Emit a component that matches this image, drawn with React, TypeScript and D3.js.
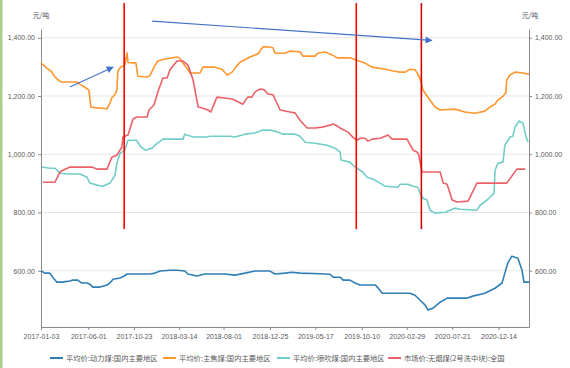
import React, { useEffect, useRef } from 'react';
import * as d3 from 'd3';

type Pt = [string, number];

const seriesNames = [
  '平均价:动力煤:国内主要地区',
  '平均价:主焦煤:国内主要地区',
  '平均价:喷吹煤:国内主要地区',
  '市场价:无烟煤(2号洗中块):全国',
];
const seriesColors = ['#2f7fb6', '#ff962e', '#72cdc8', '#ea6168'];

// 动力煤
const thermalCoal: Pt[] = [
  ['2017-01-03', 600], ['2017-01-15', 592], ['2017-01-31', 592], ['2017-02-09', 578], ['2017-02-22', 561],
  ['2017-03-10', 561], ['2017-04-04', 565], ['2017-04-13', 568], ['2017-04-29', 568], ['2017-05-11', 558],
  ['2017-05-28', 558], ['2017-06-06', 554], ['2017-06-15', 544], ['2017-07-08', 544], ['2017-07-30', 551],
  ['2017-08-08', 558], ['2017-08-18', 571], ['2017-09-09', 575], ['2017-09-22', 582], ['2017-10-01', 589],
  ['2017-12-12', 589], ['2017-12-28', 592], ['2018-01-13', 599], ['2018-02-13', 602], ['2018-03-10', 602],
  ['2018-04-01', 599], ['2018-04-11', 589], ['2018-05-09', 582], ['2018-06-03', 589], ['2018-08-05', 589],
  ['2018-09-06', 585], ['2018-10-08', 592], ['2018-11-08', 599], ['2018-12-25', 599], ['2019-01-10', 589],
  ['2019-02-10', 592], ['2019-03-05', 595], ['2019-03-30', 592], ['2019-06-01', 590], ['2019-07-02', 588],
  ['2019-07-12', 578], ['2019-08-03', 578], ['2019-08-13', 568], ['2019-09-03', 568], ['2019-09-19', 558],
  ['2019-10-05', 551], ['2019-11-22', 551], ['2019-11-28', 544], ['2019-12-14', 523], ['2020-01-23', 523],
  ['2020-03-10', 523], ['2020-03-26', 516], ['2020-04-11', 499], ['2020-04-27', 482], ['2020-05-06', 465],
  ['2020-05-22', 472], ['2020-06-13', 492], ['2020-07-05', 506], ['2020-09-05', 506], ['2020-09-24', 513],
  ['2020-11-01', 523], ['2020-12-03', 540], ['2020-12-25', 558], ['2021-01-03', 592], ['2021-01-12', 626],
  ['2021-01-25', 650], ['2021-02-13', 643], ['2021-02-26', 602], ['2021-03-04', 561], ['2021-03-20', 561],
];

// 主焦煤
const cokingCoal: Pt[] = [
  ['2017-01-03', 1313], ['2017-01-12', 1305], ['2017-01-22', 1295], ['2017-02-04', 1285], ['2017-02-16', 1265],
  ['2017-03-04', 1250], ['2017-03-10', 1248], ['2017-04-26', 1248], ['2017-05-06', 1240], ['2017-05-21', 1230],
  ['2017-06-03', 1220], ['2017-06-09', 1162], ['2017-06-22', 1160], ['2017-07-30', 1156], ['2017-08-08', 1175],
  ['2017-08-14', 1193], ['2017-08-24', 1205], ['2017-08-30', 1220], ['2017-09-02', 1285], ['2017-09-11', 1300],
  ['2017-09-24', 1306], ['2017-10-01', 1348], ['2017-10-04', 1315], ['2017-10-29', 1313], ['2017-11-04', 1268],
  ['2017-12-03', 1265], ['2017-12-12', 1270], ['2017-12-28', 1305], ['2018-01-06', 1320], ['2018-01-22', 1325],
  ['2018-03-07', 1334], ['2018-03-16', 1330], ['2018-03-26', 1313], ['2018-04-11', 1290], ['2018-04-17', 1279],
  ['2018-05-19', 1279], ['2018-05-28', 1299], ['2018-07-05', 1299], ['2018-07-27', 1292], ['2018-08-12', 1272],
  ['2018-08-28', 1282], ['2018-09-09', 1300], ['2018-09-22', 1316], ['2018-10-23', 1334], ['2018-11-18', 1345],
  ['2018-12-03', 1369], ['2018-12-25', 1368], ['2019-01-04', 1365], ['2019-01-10', 1347], ['2019-02-10', 1347],
  ['2019-02-26', 1354], ['2019-03-30', 1352], ['2019-04-08', 1337], ['2019-05-16', 1337], ['2019-05-25', 1347],
  ['2019-06-17', 1351], ['2019-07-09', 1341], ['2019-07-25', 1331], ['2019-09-03', 1331], ['2019-09-25', 1323],
  ['2019-10-20', 1313], ['2019-11-12', 1299], ['2019-12-23', 1292], ['2020-01-17', 1286], ['2020-02-08', 1282],
  ['2020-02-24', 1282], ['2020-03-10', 1292], ['2020-03-26', 1290], ['2020-04-04', 1275], ['2020-04-14', 1250],
  ['2020-04-20', 1220], ['2020-05-03', 1200], ['2020-05-12', 1186], ['2020-05-28', 1162], ['2020-06-13', 1152],
  ['2020-07-30', 1155], ['2020-08-30', 1145], ['2020-10-01', 1141], ['2020-11-01', 1148], ['2020-11-17', 1162],
  ['2020-12-03', 1172], ['2020-12-12', 1186], ['2020-12-25', 1196], ['2021-01-03', 1207], ['2021-01-06', 1210],
  ['2021-01-09', 1255], ['2021-01-19', 1272], ['2021-02-04', 1282], ['2021-03-01', 1279], ['2021-03-20', 1275],
];

// 喷吹煤
const pciCoal: Pt[] = [
  ['2017-01-06', 956], ['2017-01-31', 952], ['2017-02-16', 952], ['2017-03-04', 935], ['2017-03-26', 932],
  ['2017-05-06', 932], ['2017-05-28', 921], ['2017-06-06', 901], ['2017-06-28', 894], ['2017-07-17', 890],
  ['2017-08-08', 901], ['2017-08-24', 928], ['2017-08-30', 969], ['2017-09-09', 1003], ['2017-09-24', 1014],
  ['2017-10-04', 1048], ['2017-11-01', 1048], ['2017-11-11', 1028], ['2017-11-27', 1014], ['2017-12-19', 1021],
  ['2017-12-28', 1031], ['2018-01-22', 1052], ['2018-03-26', 1052], ['2018-04-01', 1069], ['2018-04-27', 1059],
  ['2018-06-10', 1059], ['2018-06-19', 1062], ['2018-08-21', 1062], ['2018-09-06', 1059], ['2018-10-08', 1069],
  ['2018-11-08', 1073], ['2018-12-03', 1083], ['2018-12-25', 1083], ['2019-01-20', 1076], ['2019-02-04', 1069],
  ['2019-03-14', 1069], ['2019-03-30', 1062], ['2019-04-15', 1041], ['2019-05-16', 1038], ['2019-06-23', 1031],
  ['2019-07-18', 1021], ['2019-08-03', 1008], ['2019-08-06', 980], ['2019-09-03', 973], ['2019-09-12', 963],
  ['2019-09-25', 952], ['2019-10-14', 939], ['2019-10-27', 921], ['2019-11-15', 914], ['2019-12-07', 901],
  ['2019-12-23', 890], ['2020-02-01', 887], ['2020-02-08', 897], ['2020-03-04', 897], ['2020-03-20', 890],
  ['2020-04-04', 887], ['2020-04-11', 866], ['2020-04-20', 849], ['2020-05-03', 843], ['2020-05-12', 808],
  ['2020-05-28', 798], ['2020-06-29', 801], ['2020-07-14', 808], ['2020-07-30', 815], ['2020-08-15', 811],
  ['2020-10-07', 808], ['2020-10-17', 825], ['2020-11-08', 843], ['2020-11-24', 860], ['2020-11-30', 866],
  ['2020-12-03', 945], ['2020-12-12', 969], ['2020-12-28', 973], ['2021-01-03', 1031], ['2021-01-19', 1059],
  ['2021-01-28', 1062], ['2021-02-04', 1093], ['2021-02-17', 1114], ['2021-03-01', 1107], ['2021-03-11', 1059],
  ['2021-03-17', 1041],
];

// 无烟煤
const anthracite: Pt[] = [
  ['2017-01-09', 904], ['2017-02-16', 904], ['2017-03-04', 939], ['2017-03-13', 945], ['2017-04-04', 956],
  ['2017-06-12', 956], ['2017-06-28', 949], ['2017-07-30', 949], ['2017-08-14', 990], ['2017-08-30', 997],
  ['2017-09-15', 1025], ['2017-09-18', 1059], ['2017-10-04', 1066], ['2017-10-20', 1121], ['2017-11-01', 1128],
  ['2017-12-03', 1128], ['2017-12-09', 1152], ['2017-12-25', 1169], ['2018-01-06', 1214], ['2018-01-22', 1262],
  ['2018-02-04', 1262], ['2018-02-13', 1289], ['2018-03-07', 1320], ['2018-03-26', 1320], ['2018-04-11', 1306],
  ['2018-04-27', 1255], ['2018-05-13', 1162], ['2018-05-28', 1158], ['2018-06-13', 1152], ['2018-06-22', 1145],
  ['2018-07-11', 1196], ['2018-08-05', 1193], ['2018-08-30', 1189], ['2018-09-15', 1180], ['2018-10-01', 1172],
  ['2018-10-16', 1196], ['2018-10-29', 1196], ['2018-11-08', 1214], ['2018-11-24', 1224], ['2018-12-06', 1222],
  ['2018-12-19', 1207], ['2019-01-04', 1204], ['2019-01-16', 1176], ['2019-01-26', 1152], ['2019-02-26', 1145],
  ['2019-03-14', 1142], ['2019-03-30', 1117], ['2019-04-21', 1090], ['2019-05-16', 1090], ['2019-06-07', 1093],
  ['2019-07-02', 1100], ['2019-07-12', 1104], ['2019-07-25', 1097], ['2019-08-03', 1090], ['2019-08-28', 1076],
  ['2019-09-12', 1059], ['2019-09-25', 1048], ['2019-10-05', 1055], ['2019-10-20', 1055], ['2019-10-30', 1045],
  ['2019-11-12', 1052], ['2019-12-07', 1055], ['2019-12-23', 1062], ['2020-01-01', 1066], ['2020-01-14', 1052],
  ['2020-03-01', 1052], ['2020-03-20', 1014], ['2020-04-01', 1008], ['2020-04-07', 997], ['2020-04-17', 939],
  ['2020-06-13', 939], ['2020-06-23', 901], ['2020-07-05', 897], ['2020-07-21', 843], ['2020-08-05', 836],
  ['2020-09-09', 839], ['2020-10-07', 901], ['2021-01-09', 901], ['2021-02-10', 949], ['2021-03-08', 949],
];

const allSeries = [thermalCoal, cokingCoal, pciCoal, anthracite];

const dateDomain = ['2017-01-03', '2021-03-20'];
const valueDomain = [407, 1430];
const xTickDates = [
  '2017-01-03', '2017-06-01', '2017-10-23', '2018-03-14', '2018-08-01', '2018-12-25',
  '2019-05-17', '2019-10-10', '2020-02-29', '2020-07-21', '2020-12-14',
];
const yTicks = [600, 800, 1000, 1200, 1400];
const unitLabel = '元/吨';

// annotations drawn on the chart
const markerDates = ['2017-09-22', '2019-09-23', '2020-04-15'];
const markerColors = ['#ff0000', '#ff0000', '#d00000'];
const markerRange = [743, 1519];
const arrowFrom: Pt[] = [['2017-04-04', 1231], ['2017-12-19', 1457]];
const arrowTo: Pt[] = [['2017-08-18', 1299], ['2020-05-18', 1391]];

const W = 570;
const H = 368;
const margin = { top: 29, right: 41, bottom: 41, left: 41 };
const legendX = [50, 163, 277, 388];

const App: React.FC = () => {
  const svgRef = useRef<SVGSVGElement | null>(null);

  useEffect(() => {
    if (!svgRef.current) return;
    const svg = d3.select(svgRef.current);
    svg.selectAll('*').remove();

    const parse = d3.timeParse('%Y-%m-%d');
    const numFont = "'Liberation Sans', Arial, sans-serif";
    const cjkFont = "'Noto Sans CJK SC', sans-serif";

    const x = d3.scaleTime()
      .domain(dateDomain.map(d => parse(d)!) as [Date, Date])
      .range([margin.left, W - margin.right]);
    const y = d3.scaleLinear()
      .domain(valueDomain)
      .range([H - margin.bottom, margin.top]);

    svg.append('rect').attr('width', W).attr('height', H).attr('fill', '#fff');
    svg.append('rect').attr('x', 0).attr('y', 0).attr('width', 2.5).attr('height', H).attr('fill', '#a9d18e');

    // grid
    svg.append('g')
      .selectAll('line')
      .data(yTicks)
      .enter()
      .append('line')
      .attr('x1', margin.left)
      .attr('x2', W - margin.right)
      .attr('y1', d => y(d))
      .attr('y2', d => y(d))
      .attr('stroke', '#e6e6e6')
      .attr('stroke-width', 1);

    const styleAxis = (g: d3.Selection<SVGGElement, unknown, null, undefined>) => {
      g.selectAll('path').attr('stroke', '#8a8a8a');
      g.selectAll('line').attr('stroke', '#8a8a8a');
      g.selectAll('text').attr('fill', '#595959').style('font-size', '7px').style('font-family', numFont);
    };

    // x axis
    const gx = svg.append('g')
      .attr('transform', `translate(0, ${H - margin.bottom})`)
      .call(
        d3.axisBottom(x)
          .tickValues(xTickDates.map(d => parse(d)!))
          .tickFormat(d => d3.timeFormat('%Y-%m-%d')(d as Date))
          .tickSize(3)
          .tickSizeOuter(0)
      );
    styleAxis(gx);
    gx.selectAll('text').attr('dy', '0.9em');

    // left axis
    const gl = svg.append('g')
      .attr('transform', `translate(${margin.left}, 0)`)
      .call(d3.axisLeft(y).tickValues(yTicks).tickFormat(d3.format(',.2f')).tickSize(3).tickSizeOuter(0));
    styleAxis(gl);

    // right axis
    const gr = svg.append('g')
      .attr('transform', `translate(${W - margin.right}, 0)`)
      .call(d3.axisRight(y).tickValues(yTicks).tickFormat(d3.format(',.2f')).tickSize(3).tickSizeOuter(0));
    styleAxis(gr);

    // units
    [margin.left, W - margin.right + 1].forEach(ux => {
      svg.append('text')
        .attr('x', ux)
        .attr('y', 18)
        .attr('text-anchor', 'middle')
        .attr('fill', '#595959')
        .style('font-size', '7px')
        .style('font-family', cjkFont)
        .text(unitLabel);
    });

    // series
    const line = d3.line<Pt>()
      .x(d => x(parse(d[0])!))
      .y(d => y(d[1]));

    allSeries.forEach((s, i) => {
      svg.append('path')
        .datum(s)
        .attr('fill', 'none')
        .attr('stroke', seriesColors[i])
        .attr('stroke-width', 1.6)
        .attr('stroke-linejoin', 'round')
        .attr('d', line);
    });

    // vertical markers
    markerDates.forEach((d, i) => {
      svg.append('line')
        .attr('x1', x(parse(d)!))
        .attr('x2', x(parse(d)!))
        .attr('y1', y(markerRange[1]))
        .attr('y2', y(markerRange[0]))
        .attr('stroke', markerColors[i])
        .attr('stroke-width', 1.6);
    });

    // arrows
    svg.append('defs')
      .append('marker')
      .attr('id', 'arrowHead')
      .attr('viewBox', '0 0 10 10')
      .attr('refX', 9)
      .attr('refY', 5)
      .attr('markerUnits', 'userSpaceOnUse')
      .attr('markerWidth', 9)
      .attr('markerHeight', 7)
      .attr('orient', 'auto')
      .append('path')
      .attr('d', 'M0,0 L10,5 L0,10 z')
      .attr('fill', '#4472c4');

    arrowFrom.forEach((a, i) => {
      const b = arrowTo[i];
      svg.append('line')
        .attr('x1', x(parse(a[0])!))
        .attr('y1', y(a[1]))
        .attr('x2', x(parse(b[0])!))
        .attr('y2', y(b[1]))
        .attr('stroke', '#4472c4')
        .attr('stroke-width', 1.1)
        .attr('marker-end', 'url(#arrowHead)');
    });

    // legend
    const legend = svg.append('g').attr('transform', `translate(0, ${H - 10})`);
    seriesNames.forEach((name, i) => {
      const lx = legendX[i];
      legend.append('line')
        .attr('x1', lx)
        .attr('x2', lx + 13)
        .attr('y1', 0)
        .attr('y2', 0)
        .attr('stroke', seriesColors[i])
        .attr('stroke-width', 2);
      legend.append('text')
        .attr('x', lx + 16)
        .attr('y', 0)
        .attr('dy', '0.35em')
        .attr('fill', '#595959')
        .style('font-size', '7.3px')
        .style('font-family', cjkFont)
        .text(name);
    });
  }, []);

  return (
    <svg
      ref={svgRef}
      width={W}
      height={H}
      style={{ position: 'absolute', left: 0, top: 0, display: 'block' }}
    />
  );
};

export default App;
